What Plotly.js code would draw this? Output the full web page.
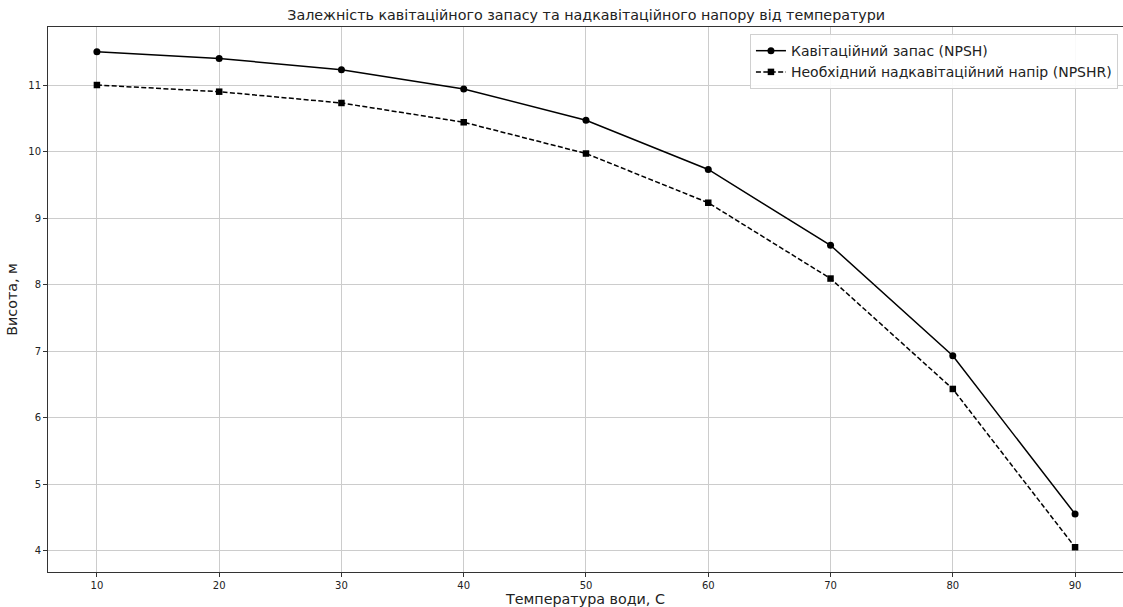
<!DOCTYPE html>
<html>
<head>
<meta charset="utf-8">
<script src="https://cdn.plot.ly/plotly-3.0.1.min.js"></script>
<style>html,body{margin:0;padding:0;background:#fff;overflow:hidden}</style>
</head>
<body>
<div id="chart" style="width:1123px;height:607px"></div>
<script>
const temperatures = [10, 20, 30, 40, 50, 60, 70, 80, 90];
const npsh = [11.5, 11.4, 11.23, 10.94, 10.47, 9.73, 8.59, 6.93, 4.55];
const npshr = [11.0, 10.9, 10.73, 10.44, 9.97, 9.23, 8.09, 6.43, 4.05];
const xTicks = [10, 20, 30, 40, 50, 60, 70, 80, 90];
const yTicks = [4, 5, 6, 7, 8, 9, 10, 11];

const font = 'DejaVu Sans, sans-serif';
const traces = [
  {x: temperatures, y: npsh, name: 'Кавітаційний запас (NPSH)', mode: 'lines+markers',
   line: {color: '#000', width: 1.5}, marker: {symbol: 'circle', size: 7, color: '#000'}},
  {x: temperatures, y: npshr, name: 'Необхідний надкавітаційний напір (NPSHR)', mode: 'lines+markers',
   line: {color: '#000', width: 1.5, dash: '5px,2.4px'}, marker: {symbol: 'square', size: 6.5, color: '#000'}}
];
const layout = {
  width: 1123, height: 607,
  margin: {l: 47.5, r: 0, t: 27, b: 35.3},
  paper_bgcolor: '#fff', plot_bgcolor: '#fff',
  font: {family: font, color: '#222'},
  title: {text: 'Залежність кавітаційного запасу та надкавітаційного напору від температури',
          font: {size: 14.3, family: font, color: '#222'}, x: 0.522, xanchor: 'center', y: 0.975, yanchor: 'middle'},
  xaxis: {range: [6, 93.92], tickvals: xTicks, ticktext: xTicks.map(String),
          showgrid: true, gridcolor: '#cccccc', gridwidth: 1,
          showline: true, linecolor: '#333', linewidth: 1, mirror: true,
          ticks: 'outside', ticklen: 4, tickcolor: '#333', tickfont: {size: 10, family: font},
          zeroline: false,
          title: {text: 'Температура води, C', font: {size: 14.3, family: font}, standoff: 5}},
  yaxis: {range: [3.6775, 11.8725], tickvals: yTicks, ticktext: yTicks.map(String),
          showgrid: true, gridcolor: '#cccccc', gridwidth: 1,
          showline: true, linecolor: '#333', linewidth: 1,
          ticks: 'outside', ticklen: 4, tickcolor: '#333', tickfont: {size: 10, family: font},
          zeroline: false,
          title: {text: 'Висота, м', font: {size: 14.3, family: font}, standoff: 7}},
  showlegend: true,
  legend: {x: 0.9953, xanchor: 'right', y: 0.987, yanchor: 'top',
           bgcolor: 'rgba(255,255,255,0.9)', bordercolor: '#d0d0d0', borderwidth: 1,
           font: {size: 14, family: font, color: '#222'}, tracegroupgap: 0, itemwidth: 30}
};
Plotly.newPlot('chart', traces, layout, {displayModeBar: false, staticPlot: true});
</script>
</body>
</html>
